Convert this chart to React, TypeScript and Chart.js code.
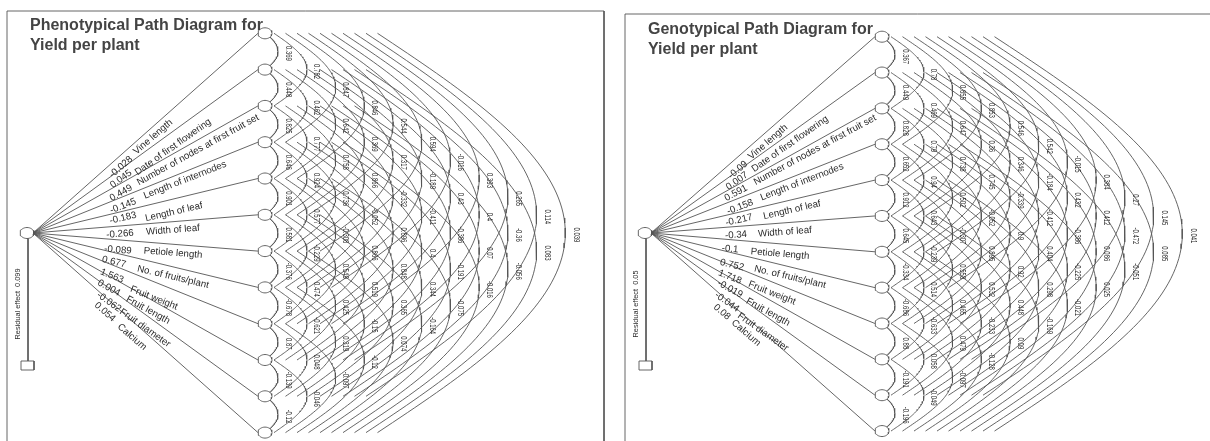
import React, { useEffect, useRef } from "react";
import { Chart, registerables } from "chart.js";

Chart.register(...registerables);

const traits = [
  "Vine length", "Date of first flowering", "Number of nodes at first fruit set",
  "Length of internodes", "Length of leaf", "Width of leaf", "Petiole length",
  "No. of fruits/plant", "Fruit weight", "Fruit length", "Fruit diameter", "Calcium",
];

const phenoDirect = ["-0.028", "0.045", "0.449", "-0.145", "-0.183", "-0.266", "-0.089", "0.677", "1.563", "0.004", "-0.062", "0.054"];
const genoDirect = ["-0.09", "0.007", "0.591", "-0.158", "-0.217", "-0.34", "-0.1", "0.752", "1.718", "-0.019", "-0.044", "0.08"];

// Correlations between traits, one list per separation between the two traits.
const phenoLag1 = [0.369, 0.448, 0.825, 0.646, 0.901, 0.581, -0.376, -0.678, 0.87, -0.139, -0.12];
const phenoLag2 = [0.782, 0.462, 0.777, 0.924, 0.577, -0.229, 0.474, -0.621, 0.048, -0.046];
const phenoLag3 = [0.847, 0.642, 0.758, 0.736, -0.308, 0.549, 0.425, 0.319, -0.097];
const phenoLag4 = [0.846, 0.369, 0.866, -0.052, 0.866, 0.519, -0.15, -0.12];
const phenoLag5 = [0.544, 0.317, -0.332, 0.896, 0.848, 0.365, 0.074];
const phenoLag6 = [0.594, -0.189, -0.411, 0.4, 0.344, -0.164];
const phenoLag7 = [-0.016, 0.43, -0.386, -0.191, -0.075];
const phenoLag8 = [0.393, 0.4, 0.07, -0.016];
const phenoLag9 = [0.265, -0.36, -0.056];
const phenoLag10 = [0.114, 0.083];
const phenoLag11 = [0.039];

const genoLag1 = [0.367, 0.449, 0.828, 0.652, 0.912, 0.645, -0.334, -0.686, 0.88, -0.191, -0.196];
const genoLag2 = [0.78, 0.469, 0.79, 0.94, 0.643, -0.239, 0.514, -0.633, 0.058, -0.049];
const genoLag3 = [0.855, 0.647, 0.738, 0.502, -0.307, 0.558, 0.465, 0.479, -0.097];
const genoLag4 = [0.853, 0.36, 0.745, -0.052, 0.895, 0.532, -0.233, -0.128];
const genoLag5 = [0.546, 0.346, -0.339, 0.9, 0.92, 0.448, 0.09];
const genoLag6 = [0.542, -0.184, -0.412, 0.404, 0.298, -0.169];
const genoLag7 = [-0.015, 0.432, -0.386, -0.225, -0.021];
const genoLag8 = [0.384, 0.412, 0.086, 0.025];
const genoLag9 = [0.27, -0.472, -0.051];
const genoLag10 = [0.145, 0.085];
const genoLag11 = [0.041];

const phenoLags = [phenoLag1, phenoLag2, phenoLag3, phenoLag4, phenoLag5, phenoLag6, phenoLag7, phenoLag8, phenoLag9, phenoLag10, phenoLag11];
const genoLags = [genoLag1, genoLag2, genoLag3, genoLag4, genoLag5, genoLag6, genoLag7, genoLag8, genoLag9, genoLag10, genoLag11];

const INK = "#555555";
const TEXT = "#2a2a2a";

// Layout, in page pixels.
const phenoLayout = {
  canvas: [0, 612],
  root: [27, 233],
  nodeX: 265,
  nodeTop: 33.3,
  nodeStep: 36.3,
  box: [21, 34, 361, 370],
  frame: [[7, 441], [7, 11], [604, 11], [604, 441]],
  residualAt: [18, 304],
  titleAt: [30, 29.5],
  title: ["Phenotypical Path Diagram for", "Yield per plant"],
  residual: "Residual effect  0.099",
  direct: phenoDirect,
  lags: phenoLags,
  coefAt: [[121, 167], [121, 179], [121, 193], [123, 206], [123, 218], [120, 234], [118, 250], [114, 262], [112, 276], [109, 288], [109, 302], [105, 312]],
  nameAt: [[153, 137], [173, 147], [198, 150], [185, 180], [174, 212], [173, 230], [173, 253], [173, 277], [154, 298], [148, 310], [145, 328], [132, 337]],
};

const genoLayout = {
  canvas: [612, 1210],
  root: [645, 233],
  nodeX: 882,
  nodeTop: 36.7,
  nodeStep: 35.85,
  box: [639, 652, 361, 370],
  frame: [[625, 441], [625, 14], [1210, 14]],
  residualAt: [636, 304],
  titleAt: [648, 33.5],
  title: ["Genotypical Path Diagram for", "Yield per plant"],
  residual: "Residual effect  0.05",
  direct: genoDirect,
  lags: genoLags,
  coefAt: [[738, 170], [737, 181], [736, 193], [740, 207], [739, 220], [736, 235], [730, 249], [732, 265], [730, 277], [730, 289], [727, 302], [722, 312]],
  nameAt: [[768, 142], [790, 144], [815, 150], [802, 182], [792, 210], [785, 232], [780, 254], [790, 277], [772, 293], [768, 312], [763, 332], [746, 333]],
};

type Layout = typeof phenoLayout;

function ellipse(cx: number, cy: number, rx: number, ry: number) {
  const pts = [];
  for (let i = 0; i <= 36; i++) {
    const a = (i / 36) * Math.PI * 2;
    pts.push({ x: cx + rx * Math.cos(a), y: cy + ry * Math.sin(a) });
  }
  return pts;
}

function arc(x0: number, y0: number, apexX: number, y1: number, flat: number) {
  const pts = [];
  const mid = (y0 + y1) / 2;
  const half = (y1 - y0) / 2;
  for (let i = -40; i <= 40; i++) {
    const t = i / 40;
    const d = flat * t * t + (1 - flat) * t * t * t * t;
    pts.push({ x: x0 + (apexX - x0) * (1 - d), y: mid + t * half });
  }
  return pts;
}

function line(points: { x: number; y: number }[]) {
  return {
    data: points,
    showLine: true,
    borderColor: INK,
    borderWidth: 0.9,
    pointRadius: 0,
    tension: 0,
    fill: false,
  };
}

function buildDatasets(l: Layout) {
  const ys = traits.map((_, i) => l.nodeTop + i * l.nodeStep);
  const sets: any[] = [];
  sets.push(line(l.frame.map(([x, y]) => ({ x, y }))));
  sets.push(line(ellipse(l.root[0], l.root[1], 7, 5.5)));
  sets.push(line([{ x: l.root[0] + 1, y: l.root[1] + 5.5 }, { x: l.root[0] + 1, y: l.box[2] }]));
  const [bx0, bx1, by0, by1] = l.box;
  sets.push(line([{ x: bx0, y: by0 }, { x: bx1, y: by0 }, { x: bx1, y: by1 }, { x: bx0, y: by1 }, { x: bx0, y: by0 }]));
  ys.forEach((y) => {
    sets.push(line(ellipse(l.nodeX, y, 7, 5.5)));
    sets.push(line([{ x: l.root[0] + 6, y: l.root[1] }, { x: l.nodeX - 7, y }]));
  });
  l.lags.forEach((values, lagIndex) => {
    const k = lagIndex + 1;
    values.forEach((_, i) => {
      if (k === 1) {
        sets.push(line(arc(l.nodeX + 5, ys[i] + 4, l.nodeX + 13, ys[i + 1] - 4, 1)));
      } else {
        const start = l.nodeX + 9 + (k - 2) * 11.5;
        const apex = l.nodeX + 42 + (k - 2) * 28.7;
        sets.push(line(arc(start, ys[i], apex, ys[i + k], 1.2)));
      }
    });
  });
  return sets;
}

function textPlugin(l: Layout) {
  return {
    id: "diagramText",
    afterDatasetsDraw(chart: any) {
      const { ctx, scales } = chart;
      const X = (v: number) => scales.x.getPixelForValue(v);
      const Y = (v: number) => scales.y.getPixelForValue(v);
      const ys = traits.map((_, i) => l.nodeTop + i * l.nodeStep);
      const put = (s: string, x: number, y: number, rot: number, font: string, squeeze = 1, color = TEXT) => {
        ctx.save();
        ctx.translate(X(x), Y(y));
        ctx.rotate(rot);
        ctx.scale(squeeze, 1);
        ctx.font = font;
        ctx.fillStyle = color;
        ctx.textAlign = "center";
        ctx.textBaseline = "middle";
        ctx.fillText(s, 0, 0);
        ctx.restore();
      };
      const body = '"Liberation Sans", Arial, sans-serif';
      l.title.forEach((t, i) => {
        ctx.save();
        ctx.font = `bold 16px ${body}`;
        ctx.fillStyle = "#444444";
        ctx.textAlign = "left";
        ctx.textBaseline = "alphabetic";
        ctx.fillText(t, X(l.titleAt[0]), Y(l.titleAt[1] + i * 20.7));
        ctx.restore();
      });
      put(l.residual, l.residualAt[0], l.residualAt[1], -Math.PI / 2, `8px ${body}`, 0.92);
      traits.forEach((name, i) => {
        const ang = Math.atan2(ys[i] - l.root[1], l.nodeX - 7 - l.root[0]);
        put(name, l.nameAt[i][0], l.nameAt[i][1], ang, `9.7px ${body}`);
        put(l.direct[i], l.coefAt[i][0], l.coefAt[i][1], ang, `9.7px ${body}`);
      });
      l.lags.forEach((values, lagIndex) => {
        const k = lagIndex + 1;
        values.forEach((v, i) => {
          const x = l.nodeX + 23 + (k - 1) * 28.8;
          const y = (ys[i] + ys[i + k]) / 2 + 2;
          put(String(v), x, y, Math.PI / 2, `8.8px ${body}`, 0.68);
        });
      });
    },
  };
}

function Panel({ layout }: { layout: Layout }) {
  const ref = useRef<HTMLCanvasElement | null>(null);
  const [left, right] = layout.canvas;
  useEffect(() => {
    const chart = new Chart(ref.current as HTMLCanvasElement, {
      type: "scatter",
      data: { datasets: buildDatasets(layout) },
      options: {
        animation: false,
        responsive: false,
        devicePixelRatio: 1,
        layout: { padding: 0 },
        plugins: { legend: { display: false }, tooltip: { enabled: false }, title: { display: false } },
        scales: {
          x: { type: "linear", min: left, max: right, display: false },
          y: { type: "linear", min: 0, max: 441, reverse: true, display: false },
        },
      },
      plugins: [textPlugin(layout)],
    } as any);
    return () => chart.destroy();
  }, []);
  return (
    <canvas
      ref={ref}
      width={right - left}
      height={441}
      style={{ position: "absolute", left, top: 0, width: right - left, height: 441, filter: "blur(0.4px)" }}
    />
  );
}

export default function App() {
  return (
    <div style={{ position: "fixed", left: 0, top: 0, width: 1210, height: 441, background: "#fff", overflow: "hidden" }}>
      <Panel layout={phenoLayout} />
      <Panel layout={genoLayout} />
    </div>
  );
}
